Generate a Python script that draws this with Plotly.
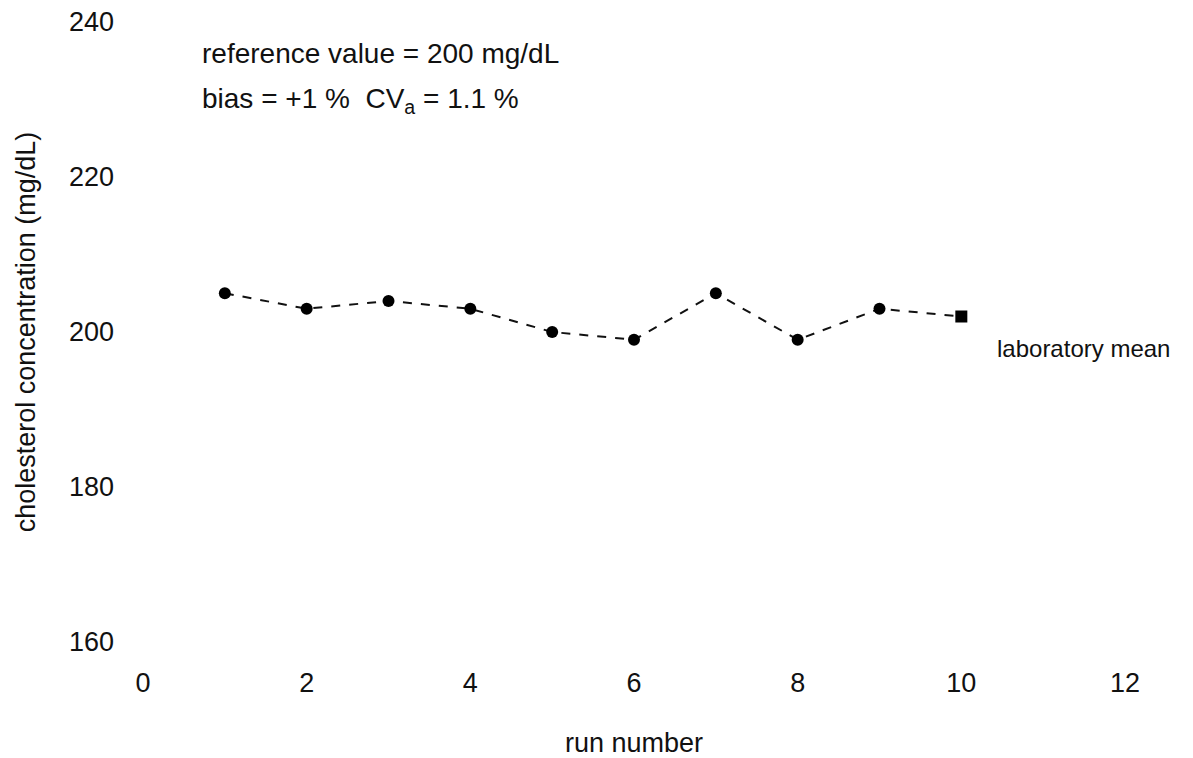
import plotly.graph_objects as go

# Data
run_number = [1, 2, 3, 4, 5, 6, 7, 8, 9, 10]
cholesterol = [205, 203, 204, 203, 200, 199, 205, 199, 203, 202]
marker_symbols = ["circle"] * 9 + ["square"]

x_ticks = [0, 2, 4, 6, 8, 10, 12]
y_ticks = [160, 180, 200, 220, 240]

note_line1 = "reference value = 200 mg/dL"
note_line2 = "bias = +1 %  CV<sub>a</sub> = 1.1 %"
mean_label = "laboratory mean"

FONT = "Liberation Sans, Arial, sans-serif"

fig = go.Figure()
fig.add_trace(go.Scatter(
    x=run_number,
    y=cholesterol,
    mode="lines+markers",
    line=dict(color="#111111", width=2, dash="dash"),
    marker=dict(color="#000000", size=12, symbol=marker_symbols),
    showlegend=False,
    hoverinfo="x+y",
))

fig.update_layout(
    width=1185,
    height=750,
    margin=dict(l=135, r=68, t=14, b=116),
    paper_bgcolor="white",
    plot_bgcolor="white",
    font=dict(family=FONT, color="#111111", size=27),
    xaxis=dict(
        range=[0, 12],
        tickvals=x_ticks,
        showgrid=False,
        zeroline=False,
        showline=False,
        ticks="",
        ticklabelstandoff=22,
        ticklabeloverflow="allow",
        tickfont=dict(size=27),
        title=dict(text="run number", font=dict(size=27), standoff=36),
        automargin=False,
    ),
    yaxis=dict(
        range=[160, 240],
        tickvals=y_ticks,
        showgrid=False,
        zeroline=False,
        showline=False,
        ticks="",
        ticklabelstandoff=28,
        ticklabeloverflow="allow",
        tickfont=dict(size=27),
        title=dict(text="cholesterol concentration (mg/dL)", font=dict(size=27), standoff=25),
        automargin=False,
    ),
    annotations=[
        dict(text=note_line1, xref="paper", yref="paper", x=0.058, y=0.95,
             xanchor="left", yanchor="middle", showarrow=False, font=dict(size=28)),
        dict(text=note_line2, xref="paper", yref="paper", x=0.058, y=0.874,
             xanchor="left", yanchor="middle", showarrow=False, font=dict(size=28)),
        dict(text=mean_label, xref="paper", yref="paper", x=0.868, y=0.473,
             xanchor="left", yanchor="middle", showarrow=False, font=dict(size=24)),
    ],
)

fig.write_html("out.html")
